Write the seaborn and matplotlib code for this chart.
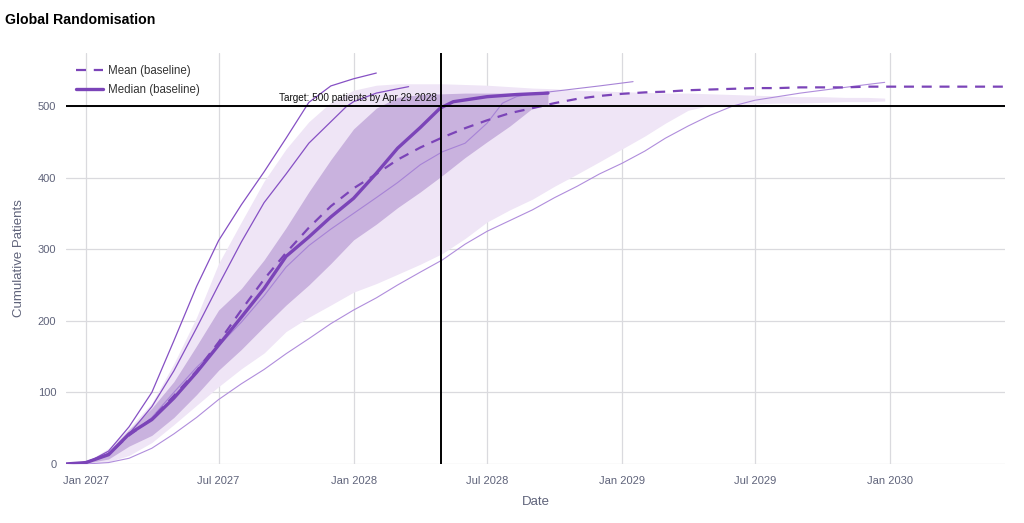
import pandas as pd
import matplotlib
matplotlib.use('Agg')
import matplotlib.pyplot as plt
import matplotlib.dates as mdates
from matplotlib.lines import Line2D
import seaborn as sns

# ---- data ----
start_date = '2026-12-05'
target_date = '2028-04-29'
target_value = 500

# band grid: start date, then first of each month Jan 2027 .. Dec 2029, then end
band_months = list(pd.date_range('2027-01-01', '2029-12-01', freq='MS').strftime('%Y-%m-%d'))
light_dates = [start_date] + band_months + ['2029-12-25']
light_lower = [0, 0, 3, 12, 30, 55, 82, 108, 133, 155, 185, 205, 222, 240, 252, 265, 279, 294,
               315, 338, 355, 370, 388, 405, 422, 440, 458, 476, 494, 501, 502, 503, 504, 504,
               505, 506, 506, 507]
light_upper = [0, 2, 22, 50, 85, 140, 205, 280, 338, 395, 440, 478, 505, 522, 529, 531, 531, 531,
               530, 529, 527, 525, 524, 522, 521, 520, 519, 518, 518, 517, 516, 515, 514, 513,
               513, 512, 512, 511]

dark_dates = [start_date] + band_months[:21] + ['2028-09-22']
dark_lower = [0, 1, 7, 25, 40, 65, 97, 131, 160, 192, 222, 250, 280, 313, 335, 358, 380, 403,
              428, 450, 472, 497, 501]
dark_upper = [0, 2, 18, 48, 78, 115, 165, 215, 245, 285, 330, 380, 425, 468, 497, 512, 516, 517,
              518, 518, 518, 518, 518]

median_dates = [start_date] + band_months[:16] + ['2028-04-28', '2028-05-16', '2028-07-01',
                                                  '2028-08-10', '2028-09-22']
median_vals = [0, 2, 13, 42, 62, 92, 128, 166, 205, 245, 290, 317, 345, 371, 406, 441, 470,
               497, 506, 513, 516, 518]

mean_dates = ([start_date] + list(pd.date_range('2027-01-01', '2030-06-01', freq='MS')
                                  .strftime('%Y-%m-%d')) + ['2030-06-07'])
mean_vals = [0, 2, 14, 40, 63, 95, 130, 170, 215, 258, 295, 330, 360, 385, 405, 425, 442, 456,
             469, 480, 490, 497, 504, 510, 514, 517, 519, 520, 522, 523, 524, 525, 525, 526, 526,
             526, 527, 527, 527, 527, 527, 527, 527, 527]

# individual simulation runs
run_a_dates = [start_date] + band_months[:14]
run_a_vals = [0, 1, 18, 52, 100, 172, 248, 312, 362, 408, 455, 505, 528, 538, 546]

run_b_dates = [start_date] + band_months[:12] + ['2027-12-22', '2028-01-01', '2028-02-01',
                                                 '2028-03-01', '2028-03-16']
run_b_vals = [0, 1, 14, 42, 80, 130, 190, 250, 310, 365, 405, 448, 478, 499, 506, 518, 524, 527]

run_c_dates = [start_date] + band_months[:19] + ['2028-07-22', '2028-08-10', '2028-09-01',
                                                 '2028-10-13', '2028-12-01', '2029-01-16']
run_c_vals = [0, 2, 14, 40, 65, 100, 135, 165, 198, 235, 275, 305, 328, 350, 372, 393, 418, 436,
              448, 476, 504, 513, 517, 522, 528, 534]

run_d_dates = [start_date] + band_months + ['2029-12-25']
run_d_vals = [0, 0, 2, 8, 22, 42, 65, 90, 112, 132, 154, 175, 196, 215, 232, 250, 268, 285, 307,
              325, 340, 355, 372, 388, 405, 420, 437, 455, 472, 487, 500, 508, 513, 518, 522, 526,
              530, 533]

# ---- style ----
sns.set_theme(style='whitegrid')
plt.rcParams['font.family'] = ['Liberation Sans', 'DejaVu Sans']

purple = '#7b44b8'
tick_col = '#5f637a'

fig = plt.figure(figsize=(10.24, 5.23), dpi=100)
ax = fig.add_axes([66 / 1024, 1 - 464 / 523, 939 / 1024, 411 / 523])


def to_dt(xs):
    return pd.to_datetime(pd.Series(xs))


# percentile bands
ax.fill_between(to_dt(light_dates), light_lower, light_upper, color='#efe5f6', lw=0, zorder=1)
ax.fill_between(to_dt(dark_dates), dark_lower, dark_upper, color='#c9b2de', lw=0, zorder=2)

runs = [
    (run_a_dates, run_a_vals, '#8650c4', 0.9),
    (run_b_dates, run_b_vals, '#8650c4', 0.9),
    (run_c_dates, run_c_vals, '#a783d6', 0.8),
    (run_d_dates, run_d_vals, '#b08ddc', 0.8),
]
for d, v, c, w in runs:
    sns.lineplot(x=to_dt(d), y=v, ax=ax, color=c, lw=w, zorder=3)

sns.lineplot(x=to_dt(mean_dates), y=mean_vals, ax=ax, color=purple, lw=1.6, zorder=4)
ax.lines[-1].set_linestyle((0, (4.5, 3.5)))
sns.lineplot(x=to_dt(median_dates), y=median_vals, ax=ax, color=purple, lw=2.4, zorder=5)

# target lines
ax.axhline(target_value, color='black', lw=1.4, zorder=6)
ax.axvline(pd.Timestamp(target_date), color='black', lw=1.4, zorder=6)
ax.annotate(f'Target: {target_value} patients by Apr 29 2028',
            xy=(pd.Timestamp(target_date), target_value), xytext=(-3, 2),
            textcoords='offset points', ha='right', va='bottom', fontsize=7.2, color='#111111',
            zorder=7)

ax.set_xlim(pd.Timestamp(start_date), pd.Timestamp('2030-06-07'))
ax.set_ylim(0, 574)
ax.set_yticks([0, 100, 200, 300, 400, 500])
ax.xaxis.set_major_locator(mdates.MonthLocator(bymonth=[1, 7]))
ax.xaxis.set_major_formatter(mdates.DateFormatter('%b %Y'))

ax.grid(True, color='#dadade', lw=0.9)
for s in ax.spines.values():
    s.set_visible(False)
ax.tick_params(axis='both', length=0, labelsize=8, labelcolor=tick_col)
ax.tick_params(axis='x', pad=9)
ax.tick_params(axis='y', pad=7)
ax.set_xlabel('Date', fontsize=9.5, color=tick_col, labelpad=7)
ax.set_ylabel('Cumulative Patients', fontsize=9.5, color=tick_col, labelpad=9)

handles = [
    Line2D([], [], color=purple, lw=1.6, linestyle=(0, (4.5, 3.5))),
    Line2D([], [], color=purple, lw=2.4),
]
ax.legend(handles, ['Mean (baseline)', 'Median (baseline)'], loc='upper left',
          bbox_to_anchor=(0.0, 0.995), frameon=False, fontsize=8.3, handlelength=2.3,
          handletextpad=0.4, labelspacing=0.6, labelcolor='#333333')

fig.text(0.005, 0.962, 'Global Randomisation', fontsize=10.2, fontweight='bold',
         va='center', ha='left', color='black')

fig.savefig('out.png', dpi=100)
